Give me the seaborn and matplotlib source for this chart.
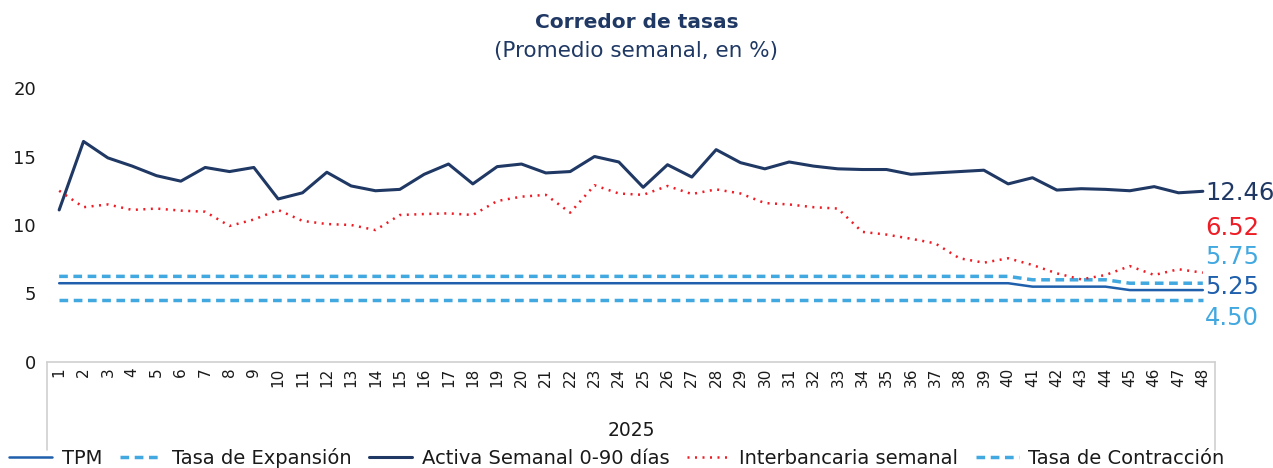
import matplotlib
matplotlib.use("Agg")
import matplotlib.pyplot as plt
import seaborn as sns
import pandas as pd
import numpy as np

weeks = list(range(1, 49))

activa = [11.1, 16.1, 14.9, 14.3, 13.6, 13.2, 14.2, 13.9, 14.2, 11.9,
          12.35, 13.85, 12.85, 12.5, 12.6, 13.7, 14.45, 13.0, 14.26, 14.45,
          13.8, 13.9, 15.0, 14.6, 12.75, 14.4, 13.5, 15.5, 14.55, 14.1,
          14.6, 14.3, 14.1, 14.05, 14.05, 13.7, 13.8, 13.9, 14.0, 13.0,
          13.45, 12.55, 12.65, 12.6, 12.5, 12.8, 12.35, 12.46]

interbancaria = [12.5, 11.3, 11.5, 11.1, 11.2, 11.05, 10.97, 9.93, 10.4, 11.1,
                 10.3, 10.07, 10.0, 9.63, 10.73, 10.8, 10.85, 10.73, 11.75, 12.07,
                 12.2, 10.9, 12.9, 12.3, 12.2, 12.85, 12.26, 12.6, 12.3, 11.6,
                 11.5, 11.3, 11.2, 9.5, 9.3, 9.0, 8.66, 7.57, 7.25, 7.57,
                 7.08, 6.47, 6.03, 6.35, 7.0, 6.35, 6.77, 6.52]

tpm = [5.75] * 40 + [5.5] * 4 + [5.25] * 4
expansion = [6.25] * 40 + [6.0] * 4 + [5.75] * 4
contraccion = [4.5] * 48

year_label = "2025"
title = "Corredor de tasas"
subtitle = "(Promedio semanal, en %)"

C_NAVY = "#1f3864"
C_TPM = "#1f5fab"
C_LIGHT = "#41a8e0"
C_RED = "#ee1c25"
C_TXT = "#1a1a1a"

sns.set_theme(style="white")
plt.rcParams["font.family"] = ["DejaVu Sans"]

fig = plt.figure(figsize=(12.73, 4.68), dpi=100)
ax = fig.add_axes([47 / 1273, 1 - 362 / 468, (1215 - 47) / 1273, (362 - 88) / 468])

df = pd.DataFrame({"week": weeks, "TPM": tpm, "exp": expansion, "act": activa,
                   "inter": interbancaria, "con": contraccion})

sns.lineplot(data=df, x="week", y="TPM", ax=ax, color=C_TPM, lw=1.8, label="TPM")
sns.lineplot(data=df, x="week", y="exp", ax=ax, color=C_LIGHT, lw=2.5,
             label="Tasa de Expansión").lines[-1].set_dashes((2.5, 1.6))
sns.lineplot(data=df, x="week", y="act", ax=ax, color=C_NAVY, lw=2.2,
             label="Activa Semanal 0-90 días")
sns.lineplot(data=df, x="week", y="inter", ax=ax, color=C_RED, lw=1.8,
             label="Interbancaria semanal").lines[-1].set_dashes((0.8, 2.2))
sns.lineplot(data=df, x="week", y="con", ax=ax, color=C_LIGHT, lw=2.5,
             label="Tasa de Contracción").lines[-1].set_dashes((2.5, 1.6))

ax.set_xlim(0.5, 48.5)
ax.set_ylim(0, 20)
ax.set_yticks([0, 5, 10, 15, 20])
ax.set_xticks(weeks)
ax.set_xticklabels([str(w) for w in weeks], rotation=90)
ax.tick_params(axis="y", labelsize=13, colors=C_TXT, pad=8, length=0)
ax.tick_params(axis="x", labelsize=11, colors=C_TXT, pad=4, length=0)
ax.set_xlabel("")
ax.set_ylabel("")
for s in ["top", "left", "right"]:
    ax.spines[s].set_visible(False)
ax.spines["bottom"].set_color("#d0d0d0")
ax.spines["bottom"].set_linewidth(1.2)

# category group separators below axis
for xa in (0, 1):
    ax.plot([xa, xa], [0, -88 / 274], transform=ax.transAxes, color="#d0d0d0",
            lw=1.2, clip_on=False)
ax.text(0.5, -68 / 274, year_label, transform=ax.transAxes, ha="center", va="center",
        fontsize=13.5, color=C_TXT)

# end labels
end_labels = [
    (activa[-1], f"{activa[-1]:.2f}", C_NAVY, 193),
    (interbancaria[-1], f"{interbancaria[-1]:.2f}", C_RED, 228),
    (expansion[-1], f"{expansion[-1]:.2f}", C_LIGHT, 257),
    (tpm[-1], f"{tpm[-1]:.2f}", C_TPM, 287),
    (contraccion[-1], f"{contraccion[-1]:.2f}", C_LIGHT, 318),
]
for val, txt, col, ypix in end_labels:
    ax.annotate(txt, xy=(48, val), xytext=(1205, 468 - ypix), textcoords="figure pixels",
                ha="left", va="center", fontsize=17.5, color=col)

fig.text(0.5, 1 - 22 / 468, title, ha="center", va="center", fontsize=14.5,
         fontweight="bold", color=C_NAVY)
fig.text(0.5, 1 - 51 / 468, subtitle, ha="center", va="center", fontsize=15.5,
         color=C_NAVY)

handles, labels = ax.get_legend_handles_labels()
ax.legend(handles, labels, loc="center", bbox_to_anchor=(617 / 1273, 1 - 458 / 468),
          bbox_transform=fig.transFigure, ncol=5, frameon=False, fontsize=14,
          handlelength=2.2, handletextpad=0.5, columnspacing=0.9, borderpad=0,
          labelcolor=C_TXT)

fig.savefig("out.png", dpi=100)
